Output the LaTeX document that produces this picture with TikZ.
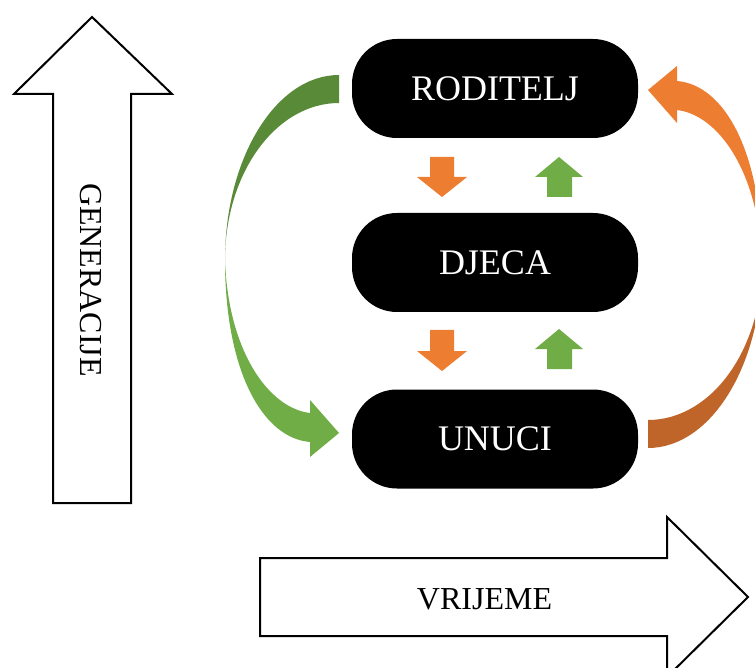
\documentclass[tikz,border=0pt]{standalone}
\usepackage{fontspec}
\setmainfont{Liberation Serif}
\definecolor{greenD}{HTML}{588A38}
\definecolor{greenL}{HTML}{70AD47}
\definecolor{orangeL}{HTML}{ED7D31}
\definecolor{orangeD}{HTML}{BF6529}
\tikzset{
  genbox/.style={fill=black, text=white, rounded corners=45pt, minimum width=286pt,
    minimum height=99pt, inner sep=0pt, text height=23.8pt, text depth=0pt,
    font=\fontsize{36}{40}\selectfont},
  bigarrow/.style={draw=black, line width=2pt, fill=white, line join=miter},
  bigtext/.style={inner sep=0pt, text height=21.2pt, text depth=0pt,
    font=\fontsize{32}{36}\selectfont},
}
\begin{document}
\begin{tikzpicture}[x=1pt,y=-1pt]
\path[use as bounding box] (0,0) rectangle (755,668);
\clip (0,0) rectangle (755,668);

% big outline arrows
\draw[bigarrow] (92,17) -- (172,94) -- (131,94) -- (131,503) -- (53,503) -- (53,94) -- (14,94) -- cycle;
\node[bigtext, rotate=-90] (gen) at (91,280) {GENERACIJE};
\draw[bigarrow] (748,597) -- (667,677) -- (667,636) -- (260,636) -- (260,558) -- (667,558) -- (667,517) -- cycle;
\node[bigtext] (vri) at (484.5,599) {VRIJEME};

% boxes
\node[genbox] (rod) at (495,88.5) {RODITELJ};
\node[genbox] (dje) at (495,262.5) {DJECA};
\node[genbox] (unu) at (495,439) {UNUCI};

% small block arrows
\fill[orangeL] (430,157) -- (454,157) -- (454,177) -- (467,177) -- (442,197) -- (417,177) -- (430,177) -- cycle;
\fill[greenL] (559,157) -- (583,177) -- (572,177) -- (572,197) -- (547,197) -- (547,177) -- (535,177) -- cycle;
\fill[orangeL] (430,330) -- (454,330) -- (454,351) -- (467,351) -- (442,371) -- (417,351) -- (430,351) -- cycle;
\fill[greenL] (559,329) -- (583,349) -- (572,349) -- (572,369) -- (547,369) -- (547,349) -- (535,349) -- cycle;

% green curved arrow (left)
\fill[greenD] (339,75) .. controls (276,75) and (225,158) .. (225,260)
  .. controls (225,173) and (276,103) .. (339,103) -- cycle;
\fill[greenL] (225,260) .. controls (225,370) and (262,438) .. (310,442)
  -- (310,457) -- (339,433) -- (310,400) -- (310,413)
  .. controls (268,408) and (228,350) .. (225,260) -- cycle;

% orange curved arrow (right)
\fill[orangeD] (648,448) .. controls (711,448) and (762,365) .. (762,263)
  .. controls (762,350) and (711,420) .. (648,420) -- cycle;
\fill[orangeL] (762,263) .. controls (762,153) and (725,85) .. (677,81)
  -- (677,66) -- (648,90) -- (677,123) -- (677,110)
  .. controls (719,115) and (759,173) .. (762,263) -- cycle;
\end{tikzpicture}
\end{document}
